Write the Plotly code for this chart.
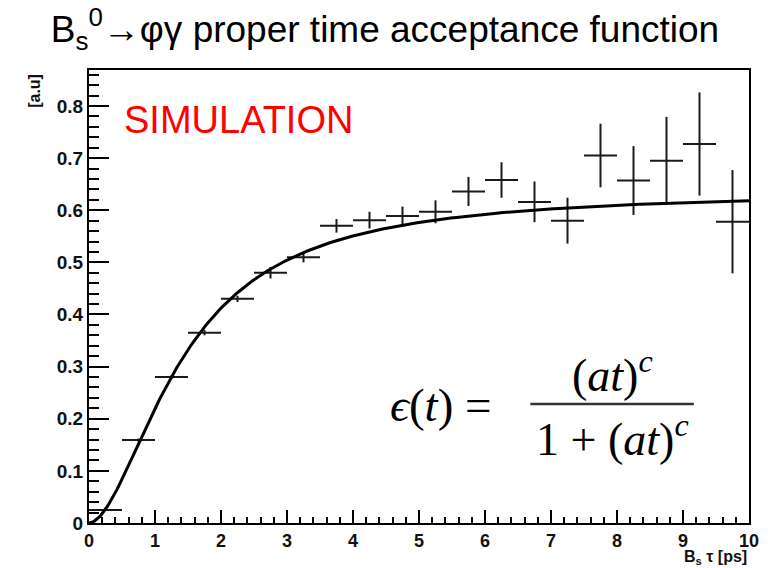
import numpy as np
import plotly.graph_objects as go

# ---- data ----
bin_centers = [0.25, 0.75, 1.25, 1.75, 2.25, 2.75, 3.25, 3.75, 4.25, 4.75,
               5.25, 5.75, 6.25, 6.75, 7.25, 7.75, 8.25, 8.75, 9.25, 9.75]
acceptance = [0.025, 0.159, 0.280, 0.365, 0.430, 0.480, 0.510, 0.570, 0.581, 0.589,
              0.597, 0.636, 0.658, 0.616, 0.580, 0.705, 0.657, 0.695, 0.727, 0.578]
acc_err = [0.002, 0.003, 0.004, 0.005, 0.006, 0.011, 0.010, 0.013, 0.016, 0.018,
           0.022, 0.028, 0.034, 0.039, 0.044, 0.061, 0.066, 0.084, 0.099, 0.099]
half_bin = [0.25] * len(bin_centers)

# fit parameters of eps(t) = N (a t)^c / (1 + (a t)^c)
fit_N = 0.637
fit_a = 0.70
fit_c = 1.8

x_ticks = list(range(0, 11))
y_ticks = [0, 0.1, 0.2, 0.3, 0.4, 0.5, 0.6, 0.7, 0.8]

t = np.linspace(0, 10, 500)
u = (fit_a * t) ** fit_c
eps = fit_N * u / (1 + u)

W, H = 770, 568
L, R, T, B = 89, 11, 70, 45
PW, PH = W - L - R, H - T - B


def px(xp):
    return (xp - L) / PW


def py(yp):
    return (H - B - yp) / PH


fig = go.Figure()
fig.add_trace(go.Scatter(
    x=bin_centers, y=acceptance, mode="markers",
    marker=dict(size=1, color="#1a1a1a", opacity=0),
    error_x=dict(type="data", array=half_bin, color="#1a1a1a", thickness=2, width=0),
    error_y=dict(type="data", array=acc_err, color="#1a1a1a", thickness=2, width=0),
    showlegend=False, hoverinfo="x+y"))
fig.add_trace(go.Scatter(x=t, y=eps, mode="lines",
                         line=dict(color="black", width=3), showlegend=False))

xtickfont = dict(family="Liberation Sans, Arial, sans-serif", size=18,
                 color="#111", weight="bold")
ytickfont = dict(family="Liberation Sans, Arial, sans-serif", size=19,
                 color="#111", weight="bold")

fig.update_layout(
    width=W, height=H,
    margin=dict(l=L, r=R, t=T, b=B),
    paper_bgcolor="white", plot_bgcolor="white",
    title=dict(text="B<sub>s</sub><sup>0</sup>\u2192\u03c6\u03b3 proper time acceptance function",
               x=0.5, xanchor="center", y=1 - 29 / H, yanchor="middle",
               yref="container",
               font=dict(family="Liberation Sans, Arial, sans-serif", size=37, color="black")),
    xaxis=dict(range=[0, 10], tickvals=x_ticks, ticks="inside", ticklen=13, tickwidth=1.5,
               tickcolor="black", showline=True, linecolor="black", linewidth=2,
               mirror=True, showgrid=False, zeroline=False, tickfont=xtickfont,
               ticklabelstandoff=0,
               minor=dict(dtick=0.2, ticks="inside", ticklen=6, tickwidth=1.5,
                          tickcolor="black", showgrid=False)),
    yaxis=dict(range=[0, 0.869], tickvals=y_ticks, ticks="inside", ticklen=20, tickwidth=1.5,
               tickcolor="black", showline=True, linecolor="black", linewidth=2,
               mirror=True, showgrid=False, zeroline=False, tickfont=ytickfont,
               minor=dict(dtick=0.02, ticks="inside", ticklen=10, tickwidth=1.5,
                          tickcolor="black", showgrid=False)),
)

ann = []
ann.append(dict(text="[a.u]", textangle=-90, x=px(33), y=py(91), xref="paper", yref="paper",
                showarrow=False, xanchor="center", yanchor="middle",
                font=dict(family="Liberation Sans, Arial, sans-serif", size=16,
                          color="#111", weight="bold")))
ann.append(dict(text="B<sub>s</sub> \u03c4 [ps]", x=px(759), y=py(557), xref="paper",
                yref="paper", showarrow=False, xanchor="right", yanchor="middle",
                font=dict(family="Liberation Sans, Arial, sans-serif", size=16,
                          color="#111", weight="bold")))
ann.append(dict(text="SIMULATION", x=px(122), y=py(120), xref="paper", yref="paper",
                showarrow=False, xanchor="left", yanchor="middle",
                font=dict(family="Liberation Sans, Arial, sans-serif", size=38, color="#ff0000")))
serif = "Liberation Serif, DejaVu Serif, serif"
ann.append(dict(text="<i>\u03f5</i>(<i>t</i>) =", x=px(393), y=py(405), xref="paper",
                yref="paper", showarrow=False, xanchor="left", yanchor="middle",
                font=dict(family=serif, size=47, color="black")))
ann.append(dict(text="(<i>at</i>)<sup><i>c</i></sup>", x=px(620), y=py(372), xref="paper",
                yref="paper", showarrow=False, xanchor="center", yanchor="middle",
                font=dict(family=serif, size=46, color="black")))
ann.append(dict(text="1 + (<i>at</i>)<sup><i>c</i></sup>", x=px(620), y=py(436), xref="paper",
                yref="paper", showarrow=False, xanchor="center", yanchor="middle",
                font=dict(family=serif, size=46, color="black")))
fig.update_layout(annotations=ann)
fig.add_shape(type="line", xref="paper", yref="paper", x0=px(537), x1=px(703),
              y0=py(404), y1=py(404), line=dict(color="#333", width=2.5))

fig.write_html("out.html")
